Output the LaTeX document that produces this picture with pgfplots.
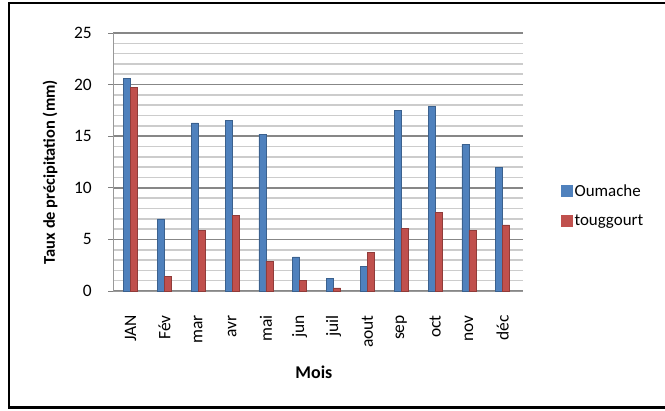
\documentclass[border=0pt]{standalone}
\usepackage{pgfplots}
\pgfplotsset{compat=1.18}
\usepackage{fontspec}
\setmainfont{Carlito}
\definecolor{blueS}{HTML}{4F81BD}
\definecolor{redS}{HTML}{C0504D}
\begin{document}
\begin{tikzpicture}[x=1bp,y=1bp]
\useasboundingbox (0,0) rectangle (665,410);
\draw[line width=2.5bp] (667,407) -- (9,407) -- (9,2.5) -- (667,2.5);
\begin{axis}[
 at={(113bp,119bp)}, anchor=south west,
 scale only axis, width=410bp, height=258bp,
 ymin=0, ymax=25, xmin=-0.52, xmax=11.6,
 ytick={0,5,...,25}, minor ytick={1,...,24},
 ymajorgrids, yminorgrids,
 major grid style={draw=black!47, line width=1.6bp},
 minor grid style={draw=black!20, line width=1.6bp},
 axis lines*=left,
 axis line style={draw=black!40, line width=1bp},
 xtick={0,...,11},
 xticklabels={JAN,Fév,mar,avr,mai,jun,juil,aout,sep,oct,nov,déc},
 xtick style={draw=none},
 ytick style={draw=black!50, line width=0.8bp, xshift=-5bp},
 minor tick length=0pt,
 major tick length=5bp,
 /pgf/number format/assume math mode=true,
 ticklabel style={font=\fontsize{17.5}{19}\selectfont, text=black},
 yticklabel style={inner sep=0pt, xshift=-21bp},
 xticklabel style={rotate=90, anchor=east, inner sep=0pt},
 xticklabel shift=19bp,
 ylabel={Taux de précipitation (mm)},
 ylabel style={at={(axis description cs:-0.1537,0.461)}, anchor=center, font=\bfseries\fontsize{16.5}{18}\selectfont},
 xlabel={Mois},
 xlabel style={at={(axis description cs:0.490,-0.314)}, anchor=center, font=\bfseries\fontsize{18}{20}\selectfont},
 ybar=0pt, bar width=7bp,
 legend style={at={(1.085,0.331)}, anchor=west, draw=none, fill=none, font=\fontsize{17}{19}\selectfont, row sep=13bp, /tikz/every even column/.append style={column sep=9bp}},
 legend cell align=left,
]
\addplot[fill=blueS, draw=blueS!75!black, line width=0.5bp,
  legend image code/.code={\fill[blueS] (0bp,-5.5bp) rectangle (11bp,5.5bp);}]
 coordinates {(0,20.6) (1,7.0) (2,16.3) (3,16.5) (4,15.2) (5,3.3) (6,1.25) (7,2.4) (8,17.5) (9,17.9) (10,14.2) (11,11.95)};
\addplot[fill=redS, draw=redS!75!black, line width=0.5bp,
  legend image code/.code={\fill[redS] (0bp,-5.5bp) rectangle (11bp,5.5bp);}]
 coordinates {(0,19.7) (1,1.4) (2,5.9) (3,7.3) (4,2.9) (5,1.05) (6,0.3) (7,3.75) (8,6.1) (9,7.6) (10,5.85) (11,6.4)};
\legend{Oumache,touggourt}
\end{axis}
\end{tikzpicture}
\end{document}
